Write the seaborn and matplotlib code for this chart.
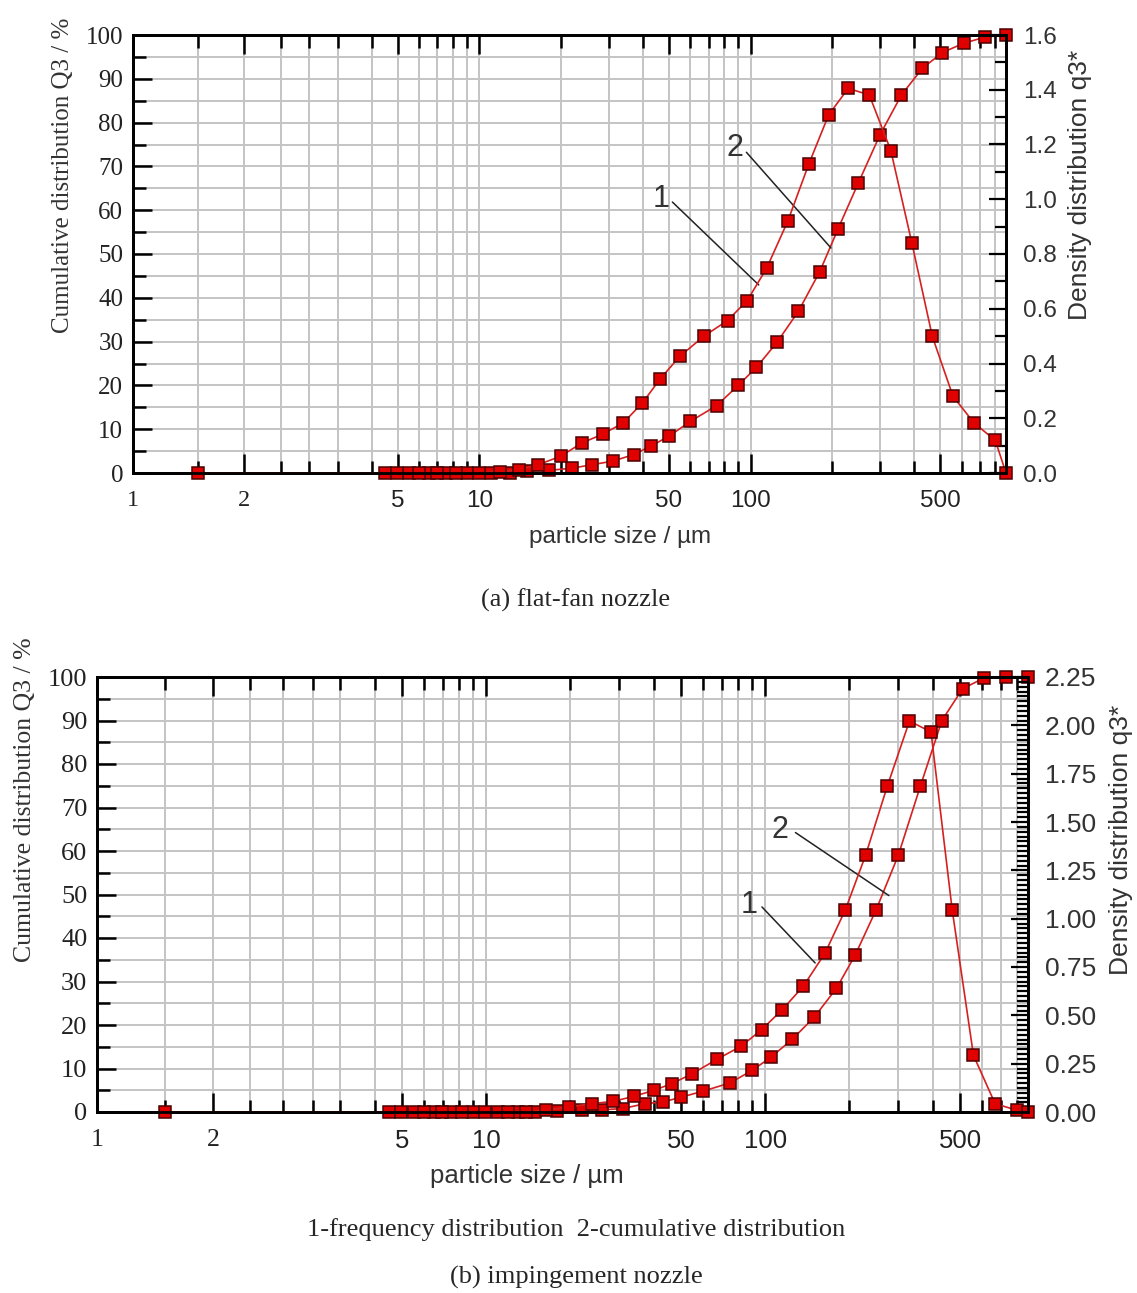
import numpy as np
import matplotlib
matplotlib.use("Agg")
import matplotlib.pyplot as plt
from matplotlib.ticker import FixedLocator, MultipleLocator, FormatStrFormatter, NullFormatter
import seaborn as sns

# ── data (HELOS R5 classes) ───────────────────────────────────
size_cum = [4.5, 5.5, 6.5, 7.5, 9, 11, 13, 15, 18, 22, 26, 31, 37, 43, 50, 60,
            75, 90, 105, 125, 150, 180, 210, 250, 300, 360, 430, 510, 610, 730, 875]
size_dens = [1.5, 4.97, 5.98, 6.98, 8.22, 9.95, 11.94, 13.96, 16.43, 19.9, 23.9,
             28.5, 33.9, 39.9, 46.4, 54.8, 67.1, 82.2, 97.2, 114.6, 137, 164, 194,
             229, 274, 329, 393, 468, 558, 667, 799, 875]

# (a) flat-fan nozzle
cum_a = [0, 0, 0, 0, 0, 0, 0, 0.5, 0.6, 1.1, 1.9, 2.7, 4.2, 6.2, 8.4, 11.8,
         15.4, 20.0, 24.1, 29.8, 36.9, 46.0, 55.7, 66.3, 77.2, 86.3, 92.4, 96.0,
         98.1, 99.5, 100]
dens_a = [0, 0, 0, 0, 0, 0, 0.005, 0.012, 0.03, 0.061, 0.11, 0.142, 0.183,
          0.256, 0.344, 0.426, 0.499, 0.557, 0.63, 0.748, 0.919, 1.129, 1.308,
          1.405, 1.381, 1.178, 0.842, 0.499, 0.28, 0.183, 0.119, 0]

# (b) impingement nozzle
cum_b = [0, 0, 0, 0, 0, 0, 0, 0, 0.3, 0.4, 0.5, 0.8, 1.9, 2.3, 3.4, 4.8, 6.7,
         9.6, 12.6, 16.7, 21.8, 28.4, 36.0, 46.5, 59.0, 74.9, 90.0, 97.3, 99.8,
         100, 100]
dens_b = [0, 0, 0, 0, 0, 0, 0, 0, 0.009, 0.026, 0.043, 0.055, 0.081, 0.112,
          0.147, 0.198, 0.272, 0.341, 0.426, 0.526, 0.65, 0.822, 1.047, 1.327,
          1.685, 2.022, 1.966, 1.047, 0.293, 0.043, 0.009, 0]

x_ticks = [1, 2, 5, 10, 50, 100, 500]

# ── style ─────────────────────────────────────────────────────
sns.set_style("white")
plt.rcParams["font.family"] = ["Liberation Sans", "DejaVu Sans"]
SERIF = "Liberation Serif"
SANS = "Liberation Sans"
RED = "#d62020"
GRID = "#c4c4c4"

W, H = 1137, 1293
fig = plt.figure(figsize=(W / 100, H / 100), dpi=100)


def frac(x0, y0, x1, y1):
    return [x0 / W, 1 - y1 / H, (x1 - x0) / W, (y1 - y0) / H]


def ftext(x, y, s, **kw):
    fig.text(x / W, 1 - y / H, s, ha="center", va="center", **kw)


def make_scale(u1, u2):
    # log axis with a stretched 1..3 part, like the original figure
    lx = np.array([-3.0, 0.0, np.log10(2), np.log10(3), 4.0])
    slope = (u2 - u1) / np.log10(2)
    uu = np.array([u1 - 3.0 * slope, u1, u2, np.log10(3), 4.0])

    def fwd(v):
        v = np.clip(np.asarray(v, dtype=float), 1e-3, None)
        return np.interp(np.log10(v), lx, uu)

    def inv(u):
        return 10 ** np.interp(u, uu, lx)
    return fwd, inv


def draw_panel(ax, cum, dens, dmax, dstep, dminor, dfmt, scale, grid_left, fs):
    ax.set_xscale("function", functions=scale)
    ax.set_xlim(1, 875)
    ax.set_ylim(0, 100)

    grid_x = grid_left + [3, 4, 5, 6, 7, 8, 9, 10, 20, 30, 40, 50, 60, 70, 80, 90,
                          100, 200, 300, 400, 500, 600, 700, 800]
    ax.xaxis.set_major_locator(FixedLocator(x_ticks))
    ax.xaxis.set_minor_locator(FixedLocator(grid_x))
    ax.xaxis.set_minor_formatter(NullFormatter())
    ax.set_xticklabels([str(t) for t in x_ticks])
    ax.yaxis.set_major_locator(MultipleLocator(10))
    ax.yaxis.set_minor_locator(MultipleLocator(5))
    ax.grid(which="both", color=GRID, lw=1.4, zorder=0)
    ax.set_axisbelow(True)

    ax.tick_params(which="both", direction="in", top=True, bottom=True,
                   left=True, right=False, width=1.8, color="black")
    ax.tick_params(which="major", length=14)
    ax.tick_params(which="minor", length=9)
    ax.tick_params(axis="x", labelsize=fs["xt"], pad=12)
    ax.tick_params(axis="y", labelsize=fs["yt"], pad=7)
    for lab in ax.get_yticklabels():
        lab.set_fontfamily(SERIF)
        lab.set_color("#222222")
    for lab in ax.get_xticklabels():
        lab.set_fontfamily(SERIF if lab.get_text() in ("1", "2") else SANS)
        lab.set_color("#222222")

    ax2 = ax.twinx()
    ax2.set_ylim(0, dmax)
    ax2.yaxis.set_major_locator(MultipleLocator(dstep))
    ax2.yaxis.set_minor_locator(MultipleLocator(dminor))
    ax2.yaxis.set_major_formatter(FormatStrFormatter(dfmt))
    ax2.tick_params(which="both", direction="in", width=1.6, color="black",
                    labelsize=fs["rt"], labelcolor="#333333", pad=12)
    ax2.tick_params(which="major", length=12)
    ax2.tick_params(which="minor", length=8)
    ax2.grid(False)

    style = dict(color=RED, lw=1.2, marker="s", markersize=8.5,
                 markerfacecolor="#e00000", markeredgecolor="#4a0000",
                 markeredgewidth=1.1, clip_on=False, legend=False)
    sns.lineplot(x=size_cum, y=cum, ax=ax, **style)
    sns.lineplot(x=size_dens, y=dens, ax=ax2, **style)
    ax.set_xlabel("")
    ax.set_ylabel("")
    ax2.set_ylabel("")

    for a in (ax, ax2):
        for sp in a.spines.values():
            sp.set_color("black")
            sp.set_linewidth(2)
    return ax2


def curve_label(ax, num, txt_xy, start, end):
    ax.annotate("", xy=end, xytext=start,
                arrowprops=dict(arrowstyle="-", color="#222222", lw=1.1))
    ax.text(*txt_xy, num, fontsize=22, color="#333333", ha="center", va="center",
            fontfamily=SANS)


# ── (a) flat-fan nozzle ───────────────────────────────────────
ax_a = fig.add_axes(frac(133, 35, 1006, 473))
fs_a = dict(xt=17.5, yt=18, rt=17.5)
draw_panel(ax_a, cum_a, dens_a, 1.6, 0.2, 0.1, "%.1f",
           make_scale(-0.278, 0.130), [1.5, 2, 2.35, 2.65], fs_a)
curve_label(ax_a, "1", (46.8, 62.6), (50.6, 62.3), (109, 42.5))
curve_label(ax_a, "2", (87.3, 74.2), (95, 73.7), (201, 50.9))

ftext(63, 175, "Cumulative distribution Q3 / %", rotation=90, fontsize=18,
      fontfamily=SERIF, color="#333333")
ftext(1080, 185, "Density distribution q3*", rotation=90, fontsize=19,
      fontfamily=SANS, color="#333333")
ftext(620, 537, "particle size / µm", fontsize=17.5, fontfamily=SANS, color="#333333")
ftext(576, 600, "(a) flat-fan nozzle", fontsize=19, fontfamily=SERIF)

# ── (b) impingement nozzle ────────────────────────────────────
ax_b = fig.add_axes(frac(97, 677, 1028, 1112))
fs_b = dict(xt=18.5, yt=19, rt=19)
draw_panel(ax_b, cum_b, dens_b, 2.25, 0.25, 0.025, "%.2f",
           make_scale(-0.394, 0.0215), [1.5, 2, 2.25, 2.5, 2.75], fs_b)
curve_label(ax_b, "1", (87.7, 47.6), (95.9, 47.6), (153.5, 33.8))
curve_label(ax_b, "2", (113, 64.8), (126, 64.6), (283, 49.4))

ftext(25, 800, "Cumulative distribution Q3 / %", rotation=90, fontsize=18.5,
      fontfamily=SERIF, color="#333333")
ftext(1121, 840, "Density distribution q3*", rotation=90, fontsize=19,
      fontfamily=SANS, color="#333333")
ftext(527, 1176, "particle size / µm", fontsize=18.5, fontfamily=SANS, color="#333333")
ftext(576, 1230, "1-frequency distribution  2-cumulative distribution",
      fontsize=19, fontfamily=SERIF)
ftext(576, 1277, "(b) impingement nozzle", fontsize=19, fontfamily=SERIF)

fig.savefig("out.png", dpi=100)
